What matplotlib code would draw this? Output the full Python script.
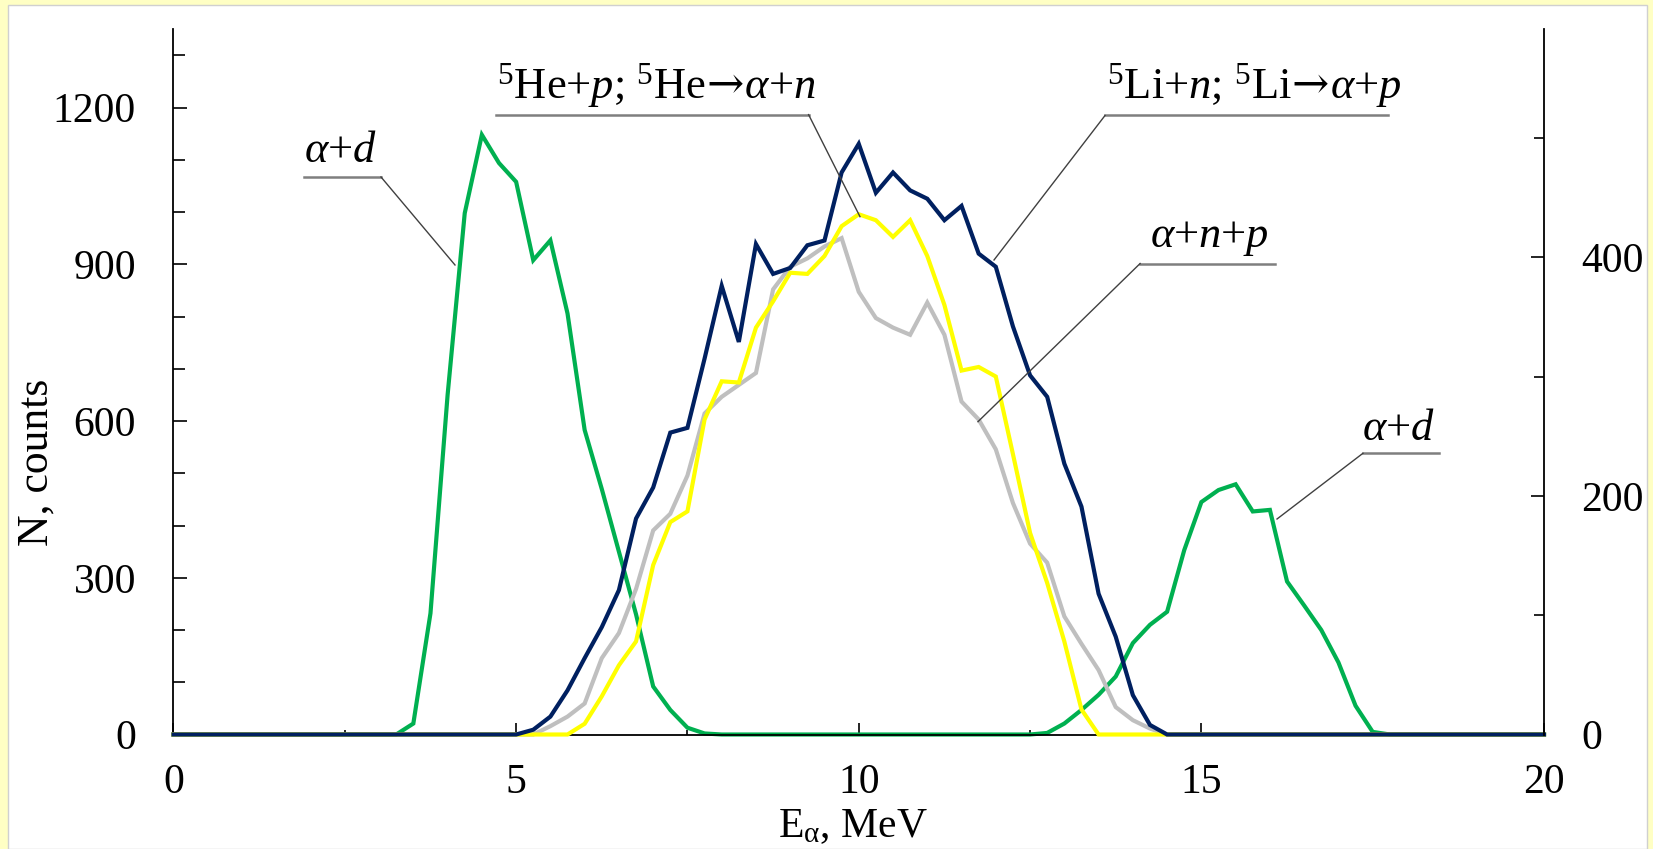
import numpy as np
import matplotlib
matplotlib.use('Agg')
import matplotlib.pyplot as plt
from matplotlib.ticker import MultipleLocator, FixedLocator
from matplotlib.patches import Rectangle

# energy bins, MeV (0.25 MeV step)
energy = np.arange(0, 20.001, 0.25)

# alpha+d, left axis (counts)
n_ad = ([0] * 14
        + [21, 232, 650, 998, 1148, 1094, 1058, 908, 946, 806, 583, 470, 350, 230, 92, 47, 13, 2]
        + [0] * 19
        + [3, 21, 47, 76, 111, 175, 210, 235, 353, 445, 468, 479, 427, 430, 293, 247, 200, 138, 55, 5]
        + [0] * 10)

# three-body channels, right axis
n_li = ([0] * 21
        + [4, 15, 37, 64, 90, 121, 181, 207, 253, 257, 315, 376, 329, 411, 386, 391, 410, 414, 471,
           495, 454, 471, 456, 449, 431, 443, 403, 392, 342, 301, 283, 227, 191, 118, 82, 33, 8]
        + [0] * 23)
n_he = ([0] * 24
        + [9, 32, 58, 78, 142, 178, 187, 264, 296, 295, 341, 363, 387, 386, 401, 426, 436, 431,
           417, 431, 401, 360, 305, 308, 300, 235, 169, 127, 78, 21]
        + [0] * 27)
n_anp = ([0] * 22
         + [7, 15, 26, 64, 85, 122, 171, 185, 217, 269, 283, 293, 303, 373, 392, 399, 409, 416,
            371, 349, 341, 335, 362, 335, 279, 264, 239, 194, 160, 144, 99, 76, 54, 23, 12, 5]
         + [0] * 23)

arrow = r'$\!\mathsf{\rightarrow}\!$'
lab_ad = r'$\alpha$+$d$'
lab_he = r'$^{5}$He+$p$; $^{5}$He' + arrow + r'$\alpha$+$n$'
lab_li = r'$^{5}$Li+$n$; $^{5}$Li' + arrow + r'$\alpha$+$p$'
lab_anp = r'$\alpha$+$n$+$p$'

plt.rcParams['font.family'] = ['Liberation Serif', 'DejaVu Serif']
plt.rcParams['mathtext.fontset'] = 'custom'
plt.rcParams['mathtext.rm'] = 'Liberation Serif'
plt.rcParams['mathtext.it'] = 'Liberation Serif:italic'
plt.rcParams['mathtext.bf'] = 'Liberation Serif:bold'
plt.rcParams['mathtext.sf'] = 'DejaVu Serif'

fig = plt.figure(figsize=(16.53, 8.49), dpi=100)
fig.patch.set_facecolor('#FFFFC4')
fig.patches.append(Rectangle((8 / 1653, 0), 1639 / 1653, 1 - 5 / 849, transform=fig.transFigure,
                             facecolor='white', edgecolor='#d0d0d0', lw=1.0, zorder=-10))

ax = fig.add_axes([0.10496, 0.13486, 0.82910, 0.83062])
ax.set_facecolor('none')
ax.set_zorder(1)
ax2 = ax.twinx()
ax2.set_zorder(2)
ax2.patch.set_visible(False)

ax.plot(energy, n_ad, color='#00B050', lw=3.0, clip_on=False, solid_joinstyle='miter')
ax2.plot(energy, n_anp, color='#BFBFBF', lw=3.0, clip_on=False, solid_joinstyle='miter')
ax2.plot(energy, n_he, color='#FFFF00', lw=3.0, clip_on=False, solid_joinstyle='miter')
ax2.plot(energy, n_li, color='#002060', lw=3.0, clip_on=False, solid_joinstyle='miter')

ax.set_xlim(0, 20)
ax.set_ylim(0, 1350)
ax2.set_ylim(0, 591)

for a in (ax, ax2):
    a.spines['top'].set_visible(False)
    for s in a.spines.values():
        s.set_linewidth(1.3)
ax.spines['right'].set_visible(False)
ax2.spines['left'].set_visible(False)
ax2.spines['bottom'].set_visible(False)

ax.xaxis.set_major_locator(FixedLocator([0, 5, 10, 15, 20]))
ax.xaxis.set_minor_locator(MultipleLocator(2.5))
ax.yaxis.set_major_locator(FixedLocator([0, 300, 600, 900, 1200]))
ax.yaxis.set_minor_locator(MultipleLocator(100))
ax2.yaxis.set_major_locator(FixedLocator([0, 200, 400]))
ax2.yaxis.set_minor_locator(MultipleLocator(100))

ax.tick_params(axis='x', which='major', direction='in', length=8.6, width=1.2, pad=21, labelsize=30)
ax.tick_params(axis='x', which='minor', direction='in', length=3.6, width=1.2)
ax.tick_params(axis='y', which='major', direction='in', length=9.9, width=1.2, pad=27, labelsize=30)
ax.tick_params(axis='y', which='minor', direction='in', length=8.3, width=1.2)
ax2.tick_params(axis='y', which='major', direction='in', length=9.6, width=1.2, pad=27, labelsize=30)
ax2.tick_params(axis='y', which='minor', direction='in', length=7.2, width=1.2)

fig.text(0.0224, 0.4558, 'N, counts', rotation=90, ha='center', va='center', fontsize=31.5)
fig.text(0.516, 0.0141, r'E$_{\mathrm{\alpha}}$, MeV', ha='center', va='baseline', fontsize=30)

# annotations: (text x, baseline y, underline x0, x1, y, leader start x, leader end x, y)
notes = [
    (lab_ad, 0.0952, 0.8118, 0.0952, 0.1514, 0.7906, 0.1514, 0.2054, 0.6658),
    (lab_he, 0.2364, 0.9026, 0.2350, 0.4634, 0.8790, 0.4634, 0.5009, 0.7343),
    (lab_li, 0.6811, 0.9026, 0.6797, 0.8862, 0.8778, 0.6797, 0.5987, 0.6729),
    (lab_anp, 0.7126, 0.6913, 0.7053, 0.8038, 0.6679, 0.7053, 0.5870, 0.4436),
    (lab_ad, 0.8672, 0.4176, 0.8679, 0.9234, 0.3988, 0.8679, 0.8052, 0.3056),
]
for txt, tx, ty, ux0, ux1, uy, lx0, lx1, ly1 in notes:
    ax2.text(tx, ty, txt, transform=ax.transAxes, ha='left', va='baseline', fontsize=32, zorder=6)
    ax2.plot([ux0, ux1], [uy, uy], transform=ax.transAxes, color='#7F7F7F', lw=1.8,
             clip_on=False, zorder=6)
    ax2.plot([lx0, lx1], [uy, ly1], transform=ax.transAxes, color='#404040', lw=1.0,
             clip_on=False, zorder=6)

fig.savefig('out.png', dpi=100, facecolor=fig.get_facecolor())
